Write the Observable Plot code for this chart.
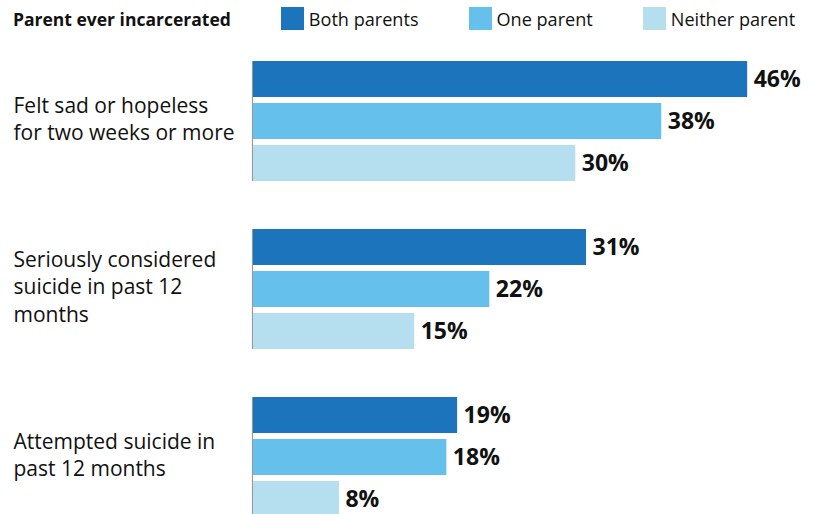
<!DOCTYPE html>
<html>
<head>
<meta charset="utf-8">
<script src="https://cdn.jsdelivr.net/npm/d3@7"></script>
<script src="https://cdn.jsdelivr.net/npm/@observablehq/plot@0.6"></script>
<style>
  html, body { margin: 0; padding: 0; background: #fff; overflow: hidden; }
  body { width: 817px; font-family: "Open Sans", sans-serif; color: #111; }
  #legend { display: flex; align-items: center; height: 37px; padding-left: 13px; gap: 50px; font-size: 18.1px; }
  #legend .title { font-weight: 700; font-size: 17.5px; }
  #legend .item { display: flex; align-items: center; }
  #legend .sw { width: 23px; height: 23px; margin-right: 5px; }
  svg { display: block; }
</style>
</head>
<body>
<div id="legend"></div>
<div id="chart"></div>
<script>
const legendTitle = "Parent ever incarcerated";
const categories = [
  "Felt sad or hopeless\nfor two weeks or more",
  "Seriously considered\nsuicide in past 12\nmonths",
  "Attempted suicide in\npast 12 months"
];
const series = ["Both parents", "One parent", "Neither parent"];
const bothParents = [46, 31, 19];
const oneParent = [38, 22, 18];
const neitherParent = [30, 15, 8];
const colors = ["#1c75bc", "#65c1ec", "#b5dfee"];

const seriesValues = [bothParents, oneParent, neitherParent];
const data = [];
categories.forEach((c, i) => {
  series.forEach((s, j) => {
    data.push({category: c, series: s, value: seriesValues[j][i]});
  });
});

// legend
const legend = document.getElementById("legend");
const t = document.createElement("span");
t.className = "title";
t.textContent = legendTitle;
legend.appendChild(t);
series.forEach((s, j) => {
  const item = document.createElement("span");
  item.className = "item";
  const sw = document.createElement("span");
  sw.className = "sw";
  sw.style.background = colors[j];
  const lab = document.createElement("span");
  lab.textContent = s;
  item.appendChild(sw);
  item.appendChild(lab);
  legend.appendChild(item);
});

const chart = Plot.plot({
  width: 817,
  height: 480,
  marginTop: 24,
  marginBottom: 0,
  marginLeft: 253,
  marginRight: 0,
  style: {fontFamily: "Open Sans, sans-serif", color: "#111", background: "#fff"},
  x: {domain: [0, 52.5], axis: null},
  y: {domain: series, paddingInner: 1/7, paddingOuter: 0, axis: null},
  fy: {domain: categories, paddingInner: 48/168, paddingOuter: 0, axis: null},
  color: {domain: series, range: colors},
  marks: [
    Plot.ruleX([0], {stroke: "#999", strokeWidth: 1.2, dx: -1}),
    Plot.barX(data, {fy: "category", y: "series", x: "value", fill: "series"}),
    Plot.text(data, {fy: "category", y: "series", x: "value", text: d => d.value + "%",
      textAnchor: "start", dx: 6, fontSize: 23, fontWeight: "bold", fill: "#111"}),
    Plot.text(categories, {fy: d => d, text: d => d, frameAnchor: "left", textAnchor: "start",
      dx: -240, dy: -4, fontSize: 21, lineHeight: 1.3, fill: "#111"})
  ]
});
document.getElementById("chart").appendChild(chart);
</script>
</body>
</html>
